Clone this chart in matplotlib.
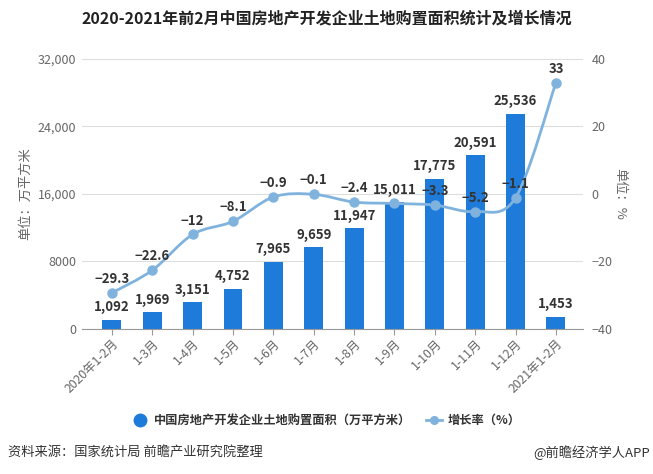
import numpy as np
import matplotlib
matplotlib.use("Agg")
import matplotlib.pyplot as plt
from matplotlib.path import Path
from matplotlib.patches import PathPatch
from matplotlib.lines import Line2D
from matplotlib.ticker import FuncFormatter

plt.rcParams['font.family'] = ['Noto Sans CJK SC', 'DejaVu Sans']

months = ['2020年1-2月', '1-3月', '1-4月', '1-5月', '1-6月', '1-7月', '1-8月',
          '1-9月', '1-10月', '1-11月', '1-12月', '2021年1-2月']
area = [1092, 1969, 3151, 4752, 7965, 9659, 11947, 15011, 17775, 20591, 25536, 1453]
growth = [-29.3, -22.6, -12, -8.1, -0.9, -0.1, -2.4, -2.8, -3.3, -5.2, -1.1, 33]
growth_labels = ['−29.3', '−22.6', '−12', '−8.1', '−0.9', '−0.1', '−2.4', '',
                 '−3.3', '−5.2', '−1.1', '33']

bar_color = '#1f7bd9'
line_color = '#7fb3de'
text_dark = '#333333'
tick_gray = '#666666'

fig = plt.figure(figsize=(6.53, 4.74), dpi=100)
ax = fig.add_axes([0.1256, 0.306, 0.7672, 0.5695])
ax2 = ax.twinx()

x = np.arange(len(months))
ax.bar(x, area, width=0.47, color=bar_color, zorder=2)
for xi, v in zip(x, area):
    ax.annotate(f'{v:,}', (xi, v), xytext=(0, 4), textcoords='offset points',
                ha='center', va='bottom', fontsize=9.5, fontweight='bold', color=text_dark)

ax.set_ylim(0, 32000)
ax.set_yticks([0, 8000, 16000, 24000, 32000])
ax.yaxis.set_major_formatter(FuncFormatter(lambda v, p: f'{int(v):,}' if v >= 10000 else f'{int(v)}'))
ax.set_xlim(-0.74, 11.67)
ax.set_xticks(x)
ax.set_xticklabels(months, rotation=45, ha='right', rotation_mode='anchor', fontsize=8.8, color=tick_gray)
ax.grid(axis='y', color='#dddddd', linewidth=0.8, zorder=0)
ax.set_axisbelow(True)
ax.tick_params(axis='y', length=0, labelsize=9, colors=tick_gray, pad=4)
ax.tick_params(axis='x', length=4, color='#999999', pad=2)
for s in ['top', 'right', 'left']:
    ax.spines[s].set_visible(False)
ax.spines['bottom'].set_color('#999999')
ax.set_ylabel('单位：万平方米', fontsize=9.5, color=tick_gray, labelpad=4)

# smooth line (Catmull-Rom through the data points, drawn as bezier path)
pts = np.column_stack([x, growth]).astype(float)
verts = [tuple(pts[0])]
codes = [Path.MOVETO]
for i in range(len(pts) - 1):
    p0 = pts[i - 1] if i > 0 else pts[i]
    p1, p2 = pts[i], pts[i + 1]
    p3 = pts[i + 2] if i + 2 < len(pts) else pts[i + 1]
    c1 = p1 + (p2 - p0) / 6
    c2 = p2 - (p3 - p1) / 6
    verts += [tuple(c1), tuple(c2), tuple(p2)]
    codes += [Path.CURVE4] * 3
ax2.add_patch(PathPatch(Path(verts, codes), fill=False, edgecolor=line_color, linewidth=2, zorder=3))
ax2.plot(x, growth, 'o', color=line_color, markersize=6.5, zorder=4)
for xi, v, lab in zip(x, growth, growth_labels):
    ax2.annotate(lab, (xi, v), xytext=(0, 5), textcoords='offset points',
                 ha='center', va='bottom', fontsize=9.5, fontweight='bold', color=text_dark, zorder=5)

ax2.set_ylim(-40, 40)
ax2.set_yticks([-40, -20, 0, 20, 40])
ax2.tick_params(axis='y', length=0, labelsize=9, colors=tick_gray, pad=6)
for s in ['top', 'right', 'left', 'bottom']:
    ax2.spines[s].set_visible(False)
ax2.set_ylabel('单位：%', fontsize=9.5, color=tick_gray, rotation=270, labelpad=10)

fig.text(0.5, 0.962, '2020-2021年前2月中国房地产开发企业土地购置面积统计及增长情况',
         ha='center', va='center', fontsize=11.5, fontweight='bold', color='#222222')

handles = [
    Line2D([], [], marker='o', linestyle='none', color=bar_color, markersize=9),
    Line2D([], [], marker='o', color=line_color, linewidth=2, markersize=5.5),
]
fig.legend(handles, ['中国房地产开发企业土地购置面积（万平方米）', '增长率（%）'],
           loc='center', bbox_to_anchor=(0.5, 0.113), ncol=2, frameon=False,
           prop={'size': 8.8, 'weight': 'bold'}, handlelength=1.3, columnspacing=1.2,
           handletextpad=0.5, labelcolor=text_dark)

fig.text(0.012, 0.045, '资料来源：国家统计局 前瞻产业研究院整理', ha='left', va='center',
         fontsize=9.5, color='#333333')
fig.text(0.995, 0.045, '@前瞻经济学人APP', ha='right', va='center',
         fontsize=9.5, color='#333333')

fig.savefig('out.png', dpi=100)
